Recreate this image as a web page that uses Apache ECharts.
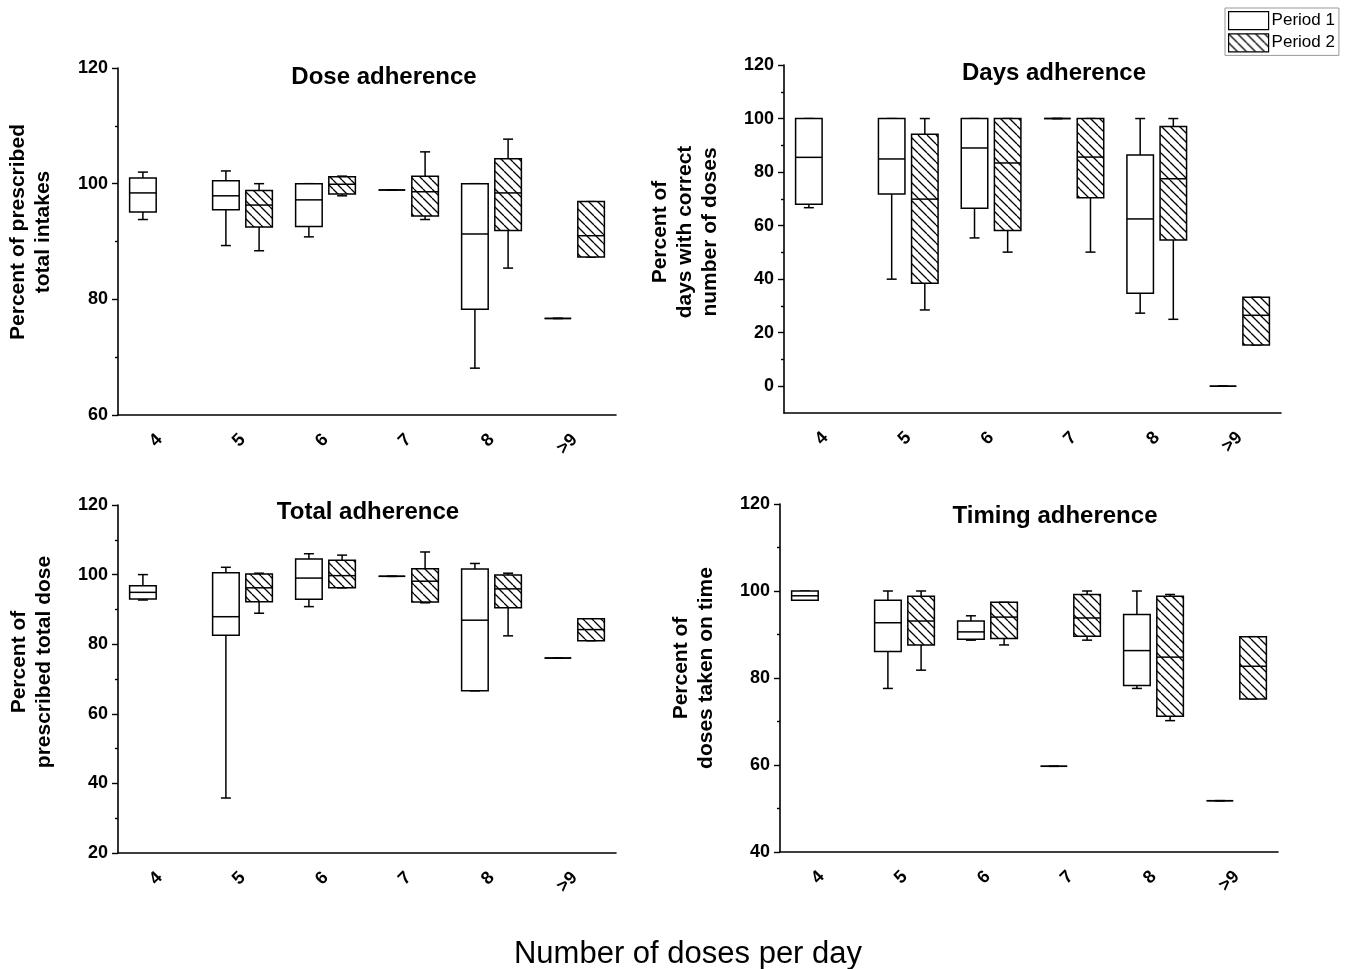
<!DOCTYPE html>
<html>
<head>
<meta charset="utf-8">
<title>Adherence by number of doses per day</title>
<script src="https://cdn.jsdelivr.net/npm/echarts@6/dist/echarts.min.js"></script>
<style>
  html, body { margin: 0; padding: 0; background: #fff; }
  #chart { width: 1349px; height: 969px; }
</style>
</head>
<body>
<div id="chart"></div>
<script>
// x categories (doses per day)
const categories = ['4', '5', '6', '7', '8', '>9'];

// each entry: [min, Q1, median, Q3, max]; null = no box
const doseP1 = [[93.8, 95.1, 98.4, 101.0, 102.0], [89.3, 95.5, 97.9, 100.5, 102.2], [90.8, 92.6, 97.2, 100, 100],
  [98.9, 98.9, 98.9, 98.9, 98.9], [68.1, 78.3, 91.3, 100, 100], [76.7, 76.7, 76.7, 76.7, 76.7]];
const doseP2 = [null, [88.4, 92.5, 96.3, 98.8, 100], [97.9, 98.2, 99.9, 101.2, 101.3],
  [93.8, 94.4, 98.6, 101.3, 105.5], [85.4, 91.9, 98.4, 104.3, 107.7], [87.3, 87.3, 91.0, 96.9, 96.9]];

const daysP1 = [[66.7, 68.0, 85.5, 100, 100], [40.0, 71.8, 84.9, 100, 100], [55.4, 66.5, 89.0, 100, 100],
  [100, 100, 100, 100, 100], [27.3, 34.7, 62.5, 86.4, 100], [0, 0, 0, 0, 0]];
const daysP2 = [null, [28.5, 38.5, 69.9, 94.1, 100], [50.1, 58.2, 83.4, 100, 100],
  [50.1, 70.4, 85.6, 100, 100], [25.0, 54.6, 77.5, 97.0, 100], [15.4, 15.4, 26.5, 33.2, 33.2]];

const totalP1 = [[92.7, 93.0, 94.9, 96.8, 100], [35.8, 82.6, 87.9, 100.5, 102.1], [90.8, 92.9, 99.0, 104.5, 106.0],
  [99.5, 99.5, 99.5, 99.5, 99.5], [66.6, 66.6, 86.9, 101.6, 103.2], [76.0, 76.0, 76.0, 76.0, 76.0]];
const totalP2 = [null, [88.9, 92.2, 96.2, 100.2, 100.4], [96.2, 96.2, 99.7, 104.1, 105.6],
  [91.9, 92.1, 98.1, 101.7, 106.5], [82.4, 90.5, 95.9, 99.9, 100.4], [81.0, 81.0, 84.2, 87.3, 87.3]];

const timingP1 = [[97.9, 97.9, 98.9, 100, 100], [77.6, 86.1, 92.7, 97.9, 100], [88.7, 88.9, 90.6, 93.1, 94.3],
  [59.7, 59.7, 59.7, 59.7, 59.7], [77.6, 78.3, 86.3, 94.6, 100], [51.8, 51.8, 51.8, 51.8, 51.8]];
const timingP2 = [null, [81.8, 87.6, 93.1, 98.8, 100], [87.6, 89.1, 94.0, 97.4, 97.4],
  [88.7, 89.6, 93.8, 99.2, 100], [70.2, 71.2, 84.8, 98.8, 99.2], [75.2, 75.2, 82.7, 89.5, 89.5]];

// y axis ticks per panel
const doseTicks = [60, 80, 100, 120];
const daysTicks = [0, 20, 40, 60, 80, 100, 120];
const totalTicks = [20, 40, 60, 80, 100, 120];
const timingTicks = [40, 60, 80, 100, 120];
const doseMinor = [70, 90, 110];
const daysMinor = [10, 30, 50, 70, 90, 110];
const totalMinor = [30, 50, 70, 90, 110];
const timingMinor = [50, 70, 90, 110];

const FONT = "'Liberation Sans', Arial, sans-serif";

// diagonal hatch used for Period 2
function hatchPattern() {
  const s = 9;
  const c = document.createElement('canvas');
  c.width = s;
  c.height = s;
  const ctx = c.getContext('2d');
  ctx.fillStyle = '#fff';
  ctx.fillRect(0, 0, s, s);
  ctx.strokeStyle = '#000';
  ctx.lineWidth = 1.3;
  ctx.beginPath();
  [-s, 0, s].forEach(o => { ctx.moveTo(o, 0); ctx.lineTo(o + s, s); });
  ctx.stroke();
  return { image: c, repeat: 'repeat' };
}
const hatch = hatchPattern();

function toRows(list) {
  const rows = [];
  list.forEach((v, i) => { if (v) rows.push([i].concat(v)); });
  return rows;
}

// draws box + whiskers with short caps; side -1 = left of tick, +1 = right
function boxRenderer(side, fill) {
  return function (params, api) {
    const ci = api.value(0);
    const band = api.size([1, 0])[0];
    const cx = api.coord([ci, 0])[0] + side * band * 0.2;
    const half = band * 0.16;
    const cap = 5;
    const y = d => api.coord([ci, api.value(d)])[1];
    const lo = y(1), q1 = y(2), med = y(3), q3 = y(4), hi = y(5);
    const line = { stroke: '#000', lineWidth: 1.5 };
    return {
      type: 'group',
      children: [
        { type: 'line', shape: { x1: cx, y1: q3, x2: cx, y2: hi }, style: line },
        { type: 'line', shape: { x1: cx, y1: q1, x2: cx, y2: lo }, style: line },
        { type: 'line', shape: { x1: cx - cap, y1: hi, x2: cx + cap, y2: hi }, style: line },
        { type: 'line', shape: { x1: cx - cap, y1: lo, x2: cx + cap, y2: lo }, style: line },
        { type: 'rect', shape: { x: cx - half, y: q3, width: half * 2, height: q1 - q3 },
          style: { fill: fill, stroke: '#000', lineWidth: 1.5 } },
        { type: 'line', shape: { x1: cx - half, y1: med, x2: cx + half, y2: med }, style: line }
      ]
    };
  };
}

const panels = [
  { grid: { left: 118, top: 68, width: 498, height: 347 }, min: 60, max: 120, ticks: doseTicks, minor: doseMinor, p1: doseP1, p2: doseP2 },
  { grid: { left: 784, top: 65, width: 497, height: 348 }, min: -10, max: 120, ticks: daysTicks, minor: daysMinor, p1: daysP1, p2: daysP2 },
  { grid: { left: 118, top: 505, width: 498, height: 348 }, min: 20, max: 120, ticks: totalTicks, minor: totalMinor, p1: totalP1, p2: totalP2 },
  { grid: { left: 780, top: 504, width: 498, height: 348 }, min: 40, max: 120, ticks: timingTicks, minor: timingMinor, p1: timingP1, p2: timingP2 }
];

const grids = [], xAxes = [], yAxes = [], series = [];
panels.forEach((p, i) => {
  grids.push(Object.assign({ outerBoundsMode: 'none', containLabel: false }, p.grid));
  xAxes.push({
    type: 'category', gridIndex: i, data: categories, boundaryGap: true,
    axisLine: { onZero: false, lineStyle: { color: '#000', width: 1.6 } },
    axisTick: { alignWithLabel: true, length: 7, lineStyle: { color: '#000', width: 1.4 } },
    axisLabel: { rotate: 45, margin: 22, color: '#000', fontWeight: 'bold', fontSize: 18, fontFamily: FONT },
    splitLine: { show: false }
  });
  yAxes.push({
    type: 'value', gridIndex: i, min: p.min, max: p.max, position: 'left',
    axisLine: { show: true, lineStyle: { color: '#000', width: 1.6 } },
    axisTick: { show: true, length: 6, customValues: p.ticks, lineStyle: { color: '#000', width: 1.4 } },
    axisLabel: { customValues: p.ticks, margin: 10, color: '#000', fontWeight: 'bold', fontSize: 18, fontFamily: FONT },
    splitLine: { show: false }
  });
  // minor ticks
  yAxes.push({
    type: 'value', gridIndex: i, min: p.min, max: p.max, position: 'left',
    axisLine: { show: false },
    axisTick: { show: true, length: 3, customValues: p.minor, lineStyle: { color: '#000', width: 1.4 } },
    axisLabel: { show: false },
    splitLine: { show: false }
  });
  [[p.p1, 'Period 1', -1, '#fff'], [p.p2, 'Period 2', 1, hatch]].forEach(([vals, name, side, fill]) => {
    series.push({
      type: 'custom', name: name, xAxisIndex: i, yAxisIndex: i * 2,
      itemStyle: { color: fill, borderColor: '#000', borderWidth: 1.4 },
      encode: { x: 0, y: [1, 2, 3, 4, 5] },
      renderItem: boxRenderer(side, fill),
      data: toRows(vals)
    });
  });
});

const titleFont = 'bold 24px ' + FONT;
const nameFont = 'bold 21px ' + FONT;
function label(text, x, y, font, rotation) {
  return {
    type: 'text', x: x, y: y, rotation: rotation || 0,
    style: { text: text, font: font, fill: '#000', align: 'center', verticalAlign: 'middle', lineHeight: 25 }
  };
}

const chart = echarts.init(document.getElementById('chart'), null, { renderer: 'canvas' });
chart.setOption({
  animation: false,
  backgroundColor: '#fff',
  grid: grids,
  xAxis: xAxes,
  yAxis: yAxes,
  series: series,
  legend: {
    data: [{ name: 'Period 1', icon: 'rect' }, { name: 'Period 2', icon: 'rect' }],
    orient: 'vertical', left: 1225, top: 8,
    padding: [3, 4, 3, 3], itemGap: 3, itemWidth: 40, itemHeight: 18,
    borderColor: '#999', borderWidth: 1, selectedMode: false,
    itemStyle: { borderColor: '#000', borderWidth: 1.2 },
    textStyle: { color: '#000', fontSize: 17, fontFamily: FONT, padding: [0, 0, 0, -2] }
  },
  graphic: [
    label('Dose adherence', 384, 77, titleFont),
    label('Days adherence', 1054, 73, titleFont),
    label('Total adherence', 368, 512, titleFont),
    label('Timing adherence', 1055, 516, titleFont),
    label('Percent of prescribed\ntotal intakes', 31, 232, nameFont, Math.PI / 2),
    label('Percent of\ndays with correct\nnumber of doses', 685, 232, nameFont, Math.PI / 2),
    label('Percent of\nprescribed total dose', 32, 662, nameFont, Math.PI / 2),
    label('Percent of\ndoses taken on time', 694, 668, nameFont, Math.PI / 2),
    label('Number of doses per day', 688, 954, '31px ' + FONT)
  ]
});
</script>
</body>
</html>
